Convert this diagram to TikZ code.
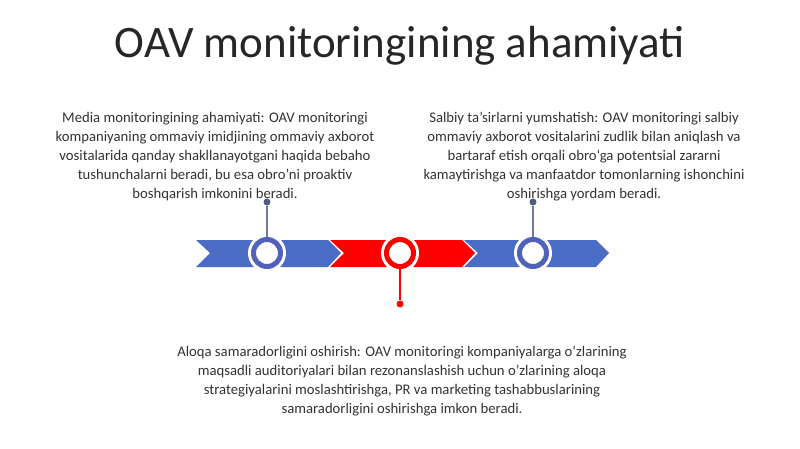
\documentclass[tikz,border=0pt]{standalone}
\usepackage{fontspec}
\setmainfont{Carlito}
\definecolor{segblue}{HTML}{4A6CC4}
\definecolor{ringblue}{HTML}{5163B8}
\definecolor{segred}{HTML}{FF0000}
\definecolor{linegray}{HTML}{6E7B99}
\definecolor{dotgray}{HTML}{4F5D80}
\definecolor{txt}{HTML}{333333}
\begin{document}
\begin{tikzpicture}[x=1pt,y=-1pt,
  bodytext/.style={text=txt,align=center,font=\fontsize{14.7}{19}\selectfont,inner sep=0pt},
  whitedisk/.style={circle,fill=white,minimum size=38pt,inner sep=0pt},
  ring/.style={circle,draw=#1,line width=5pt,fill=white,minimum size=27pt,inner sep=0pt},
  dotnode/.style={circle,fill=#1,minimum size=7pt,inner sep=0pt},
  stem/.style={line width=1.6pt,draw=#1}]
\useasboundingbox (0,0) rectangle (800,449);
\fill[white] (0,0) rectangle (800,449);
% title
\node[text=black!85,font=\fontsize{45}{50}\selectfont] (title) at (400,46) {OAV monitoringining ahamiyati};
% chevrons
\def\chev#1#2{\fill[#2] (#1,240) -- ++(132,0) -- ++(13,13) -- ++(-13,14) -- ++(-132,0) -- ++(14,-14) -- cycle;}
\chev{196}{segblue}
\chev{330}{segred}
\chev{464}{segblue}
% circles
\node[whitedisk] (w1) at (267,253) {};
\node[whitedisk] (w2) at (400,253) {};
\node[whitedisk] (w3) at (533,253) {};
\node[ring=ringblue] (c1) at (267,253) {};
\node[ring=segred] (c2) at (400,253) {};
\node[ring=ringblue] (c3) at (533,253) {};
% dots
\node[dotnode=dotgray] (d1) at (267,202) {};
\node[dotnode=segred] (d2) at (400,304) {};
\node[dotnode=dotgray] (d3) at (533,202) {};
\draw[stem=linegray] (c1.north) -- (d1);
\draw[stem=segred] (c2.south) -- (d2);
\draw[stem=linegray] (c3.north) -- (d3);
% texts
\node[bodytext,anchor=north] (t1) at (215,112) {Media monitoringining ahamiyati: OAV monitoringi\\kompaniyaning ommaviy imidjining ommaviy axborot\\vositalarida qanday shakllanayotgani haqida bebaho\\tushunchalarni beradi, bu esa obro'ni proaktiv\\boshqarish imkonini beradi.};
\node[bodytext,anchor=north] (t3) at (584,112) {Salbiy ta'sirlarni yumshatish: OAV monitoringi salbiy\\ommaviy axborot vositalarini zudlik bilan aniqlash va\\bartaraf etish orqali obro‘ga potentsial zararni\\kamaytirishga va manfaatdor tomonlarning ishonchini\\oshirishga yordam beradi.};
\node[bodytext,anchor=north] (t2) at (402,346) {Aloqa samaradorligini oshirish: OAV monitoringi kompaniyalarga o‘zlarining\\maqsadli auditoriyalari bilan rezonanslashish uchun o'zlarining aloqa\\strategiyalarini moslashtirishga, PR va marketing tashabbuslarining\\samaradorligini oshirishga imkon beradi.};
\end{tikzpicture}
\end{document}
